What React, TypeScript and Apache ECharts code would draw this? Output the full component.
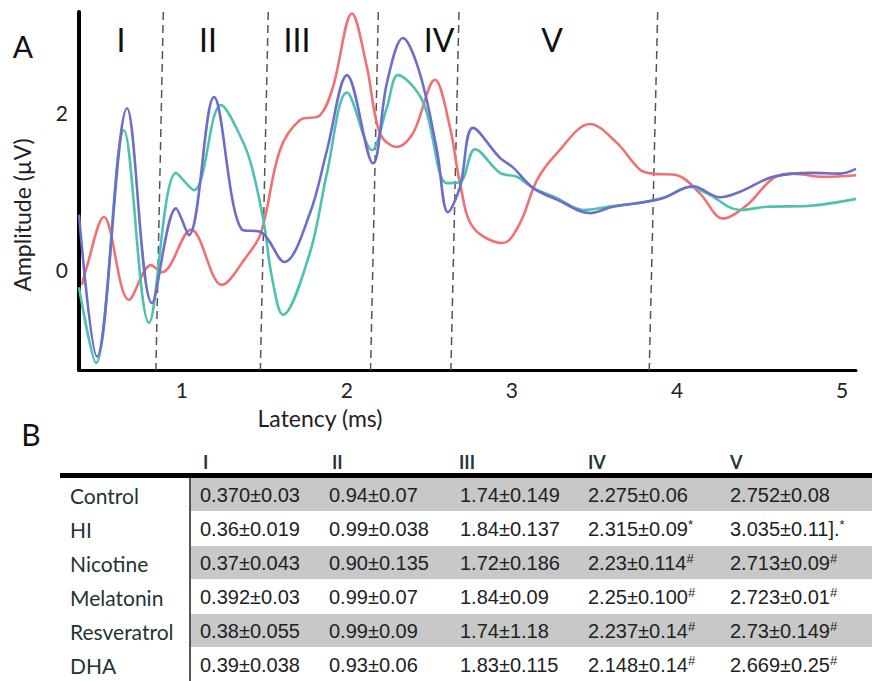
import React, { useEffect, useRef } from "react";
import * as echarts from "echarts";

// ---- Panel A data (latency ms, amplitude µV) ----
const blueLatency = [0.376, 0.485, 0.667, 0.818, 0.964, 1.042, 1.194, 1.364, 1.479, 1.62, 1.776, 1.879, 2.0, 2.158, 2.242, 2.339, 2.442, 2.545, 2.612, 2.685, 2.764, 2.927, 3.006, 3.127, 3.273, 3.473, 3.612, 3.776, 3.915, 4.097, 4.261, 4.382, 4.582, 4.824, 4.988, 5.085];
const blueAmp = [0.7, -1.1, 2.05, -0.42, 0.78, 0.44, 2.19, 0.51, 0.48, 0.1, 0.72, 1.52, 2.47, 1.35, 2.37, 2.94, 2.49, 1.52, 0.73, 1.05, 1.8, 1.42, 1.3, 1.04, 0.89, 0.72, 0.8, 0.85, 0.91, 1.06, 0.92, 0.99, 1.18, 1.23, 1.22, 1.28];

const tealLatency = [0.376, 0.479, 0.648, 0.8, 0.964, 1.073, 1.236, 1.364, 1.424, 1.497, 1.545, 1.612, 1.776, 1.879, 2.0, 2.152, 2.242, 2.309, 2.461, 2.606, 2.685, 2.776, 2.927, 3.03, 3.127, 3.273, 3.43, 3.612, 3.776, 3.915, 4.079, 4.182, 4.382, 4.545, 4.788, 5.085];
const tealAmp = [-0.22, -1.18, 1.77, -0.67, 1.23, 1.01, 2.09, 1.65, 1.3, 0.59, -0.09, -0.57, 0.22, 1.23, 2.25, 1.52, 2.06, 2.47, 2.13, 1.1, 1.11, 1.53, 1.23, 1.18, 1.04, 0.91, 0.76, 0.81, 0.85, 0.91, 1.05, 0.97, 0.76, 0.8, 0.81, 0.9];

const redLatency = [0.394, 0.418, 0.527, 0.679, 0.812, 0.879, 1.055, 1.242, 1.388, 1.479, 1.594, 1.715, 1.836, 1.915, 2.03, 2.121, 2.2, 2.303, 2.4, 2.533, 2.624, 2.685, 2.764, 2.945, 3.048, 3.152, 3.273, 3.473, 3.636, 3.776, 3.855, 4.0, 4.139, 4.279, 4.424, 4.582, 4.703, 4.885, 5.085];
const redAmp = [-0.19, 0.0, 0.67, -0.38, 0.06, -0.03, 0.51, -0.19, 0.16, 0.47, 1.52, 1.9, 1.96, 2.32, 3.25, 2.57, 1.73, 1.56, 1.73, 2.41, 1.81, 1.1, 0.54, 0.34, 0.59, 1.14, 1.48, 1.85, 1.61, 1.27, 1.22, 1.2, 0.97, 0.65, 0.82, 1.16, 1.22, 1.18, 1.2];

const dividerTop = [0.887, 1.523, 2.19, 2.679, 3.883];
const dividerBottom = [0.842, 1.475, 2.143, 2.63, 3.832];
const waveNames = ["I", "II", "III", "IV", "V"];
const waveLabelX = [121, 208, 297, 439, 552];

const xTicks = [1, 2, 3, 4, 5];
const yTicks = [0, 2];
const X_MIN = 0.376;
const X_MAX = 5.085;
const Y_MIN = -1.27;
const Y_MAX = 3.27;

// ---- Panel B table ----
const groups = ["Control", "HI", "Nicotine", "Melatonin", "Resveratrol", "DHA"];
const waveIcol = ["0.370±0.03", "0.36±0.019", "0.37±0.043", "0.392±0.03", "0.38±0.055", "0.39±0.038"];
const waveIIcol = ["0.94±0.07", "0.99±0.038", "0.90±0.135", "0.99±0.07", "0.99±0.09", "0.93±0.06"];
const waveIIIcol = ["1.74±0.149", "1.84±0.137", "1.72±0.186", "1.84±0.09", "1.74±1.18", "1.83±0.115"];
const waveIVcol = ["2.275±0.06", "2.315±0.09*", "2.23±0.114#", "2.25±0.100#", "2.237±0.14#", "2.148±0.14#"];
const waveVcol = ["2.752±0.08", "3.035±0.11].*", "2.713±0.09#", "2.723±0.01#", "2.73±0.149#", "2.669±0.25#"];

const zip = (xs: number[], ys: number[]) => xs.map((x, i) => [x, ys[i]]);

const FONT = "Lato, 'Open Sans', sans-serif";
const NUMFONT = "'Liberation Sans', Arial, sans-serif";

function cellText(v: string) {
  const last = v.charAt(v.length - 1);
  if (last === "#" || last === "*") {
    return `{v|${v.slice(0, -1)}}{s|${last}}`;
  }
  return `{v|${v}}`;
}

export default function App() {
  const ref = useRef<HTMLDivElement>(null);
  useEffect(() => {
    if (!ref.current) return;
    const chart = echarts.init(ref.current, undefined, { renderer: "svg" });

    const dividerSeries = dividerTop.map((t, i) => ({
      type: "line",
      data: [
        [t, Y_MAX],
        [dividerBottom[i], Y_MIN],
      ],
      symbol: "none",
      silent: true,
      lineStyle: { color: "#555", width: 1.5, type: [8, 5] },
      z: 1,
    }));

    const curve = (name: string, xs: number[], ys: number[], color: string) => ({
      name,
      type: "line",
      data: zip(xs, ys),
      smooth: 0.35,
      symbol: "none",
      lineStyle: { color, width: 2.6 },
      z: 3,
    });

    const columns = [waveIcol, waveIIcol, waveIIIcol, waveIVcol, waveVcol];
    const colX = [200, 329, 460, 588, 730];
    const headerX = [203, 332, 459, 588, 730];
    const rowTop = 478;
    const rowH = 34;

    const table: any[] = [];
    groups.forEach((g, i) => {
      if (i % 2 === 0) {
        table.push({
          type: "rect",
          shape: { x: 190, y: rowTop + rowH * i, width: 682, height: rowH - 1 },
          style: { fill: "#c8c8c8" },
          silent: true,
        });
      }
    });
    table.push({
      type: "rect",
      shape: { x: 60, y: 473, width: 812, height: 5 },
      style: { fill: "#000" },
    });
    table.push({
      type: "rect",
      shape: { x: 189, y: 478, width: 2, height: 203 },
      style: { fill: "#555" },
    });
    waveNames.forEach((w, j) => {
      table.push({
        type: "text",
        x: headerX[j],
        y: 462,
        style: {
          text: w,
          fontSize: 18,
          fontWeight: "bold",
          fontFamily: FONT,
          fill: "#1f3a3e",
          verticalAlign: "middle",
          align: "left",
        },
      });
    });
    groups.forEach((g, i) => {
      const cy = rowTop + rowH * i + 17;
      table.push({
        type: "text",
        x: 70,
        y: cy,
        style: {
          text: g,
          fontSize: 21,
          fontFamily: FONT,
          fill: "#1e3434",
          verticalAlign: "middle",
          align: "left",
        },
      });
      columns.forEach((col, j) => {
        table.push({
          type: "text",
          x: colX[j],
          y: cy,
          style: {
            text: cellText(col[i]),
            verticalAlign: "middle",
            align: "left",
            rich: {
              v: { fontSize: 20, fontFamily: NUMFONT, fill: "#222", lineHeight: 22 },
              s: { fontSize: 13, fontFamily: NUMFONT, fill: "#222", lineHeight: 22, verticalAlign: "top" },
            },
          },
        });
      });
    });

    const labels: any[] = [
      {
        type: "text",
        x: 23,
        y: 46,
        style: { text: "A", fontSize: 30, fontFamily: FONT, fill: "#111", align: "center", verticalAlign: "middle" },
      },
      {
        type: "text",
        x: 31,
        y: 434,
        style: { text: "B", fontSize: 30, fontFamily: FONT, fill: "#111", align: "center", verticalAlign: "middle" },
      },
      {
        type: "text",
        x: 320,
        y: 418,
        style: { text: "Latency (ms)", fontSize: 23, fontFamily: FONT, fill: "#222", align: "center", verticalAlign: "middle" },
      },
      {
        type: "text",
        x: 22,
        y: 215,
        rotation: Math.PI / 2,
        style: { text: "Amplitude (µV)", fontSize: 23, fontFamily: FONT, fill: "#222", align: "center", verticalAlign: "middle" },
      },
      ...waveNames.map((w, i) => ({
        type: "text",
        x: waveLabelX[i],
        y: 39,
        style: { text: w, fontSize: 32, fontFamily: FONT, fill: "#111", align: "center", verticalAlign: "middle" },
      })),
    ];

    chart.setOption({
      animation: false,
      backgroundColor: "#fff",
      grid: { left: 79, right: 16, top: 12, bottom: 311, containLabel: false },
      xAxis: {
        type: "value",
        min: X_MIN,
        max: X_MAX,
        axisLine: { show: true, onZero: false, lineStyle: { color: "#000", width: 3 } },
        axisTick: { show: false },
        splitLine: { show: false },
        axisLabel: {
          customValues: xTicks,
          fontSize: 21,
          fontFamily: FONT,
          color: "#222",
          margin: 9,
        },
      },
      yAxis: {
        type: "value",
        min: Y_MIN,
        max: Y_MAX,
        axisLine: { show: true, onZero: false, lineStyle: { color: "#000", width: 4 } },
        axisTick: { show: false },
        splitLine: { show: false },
        axisLabel: {
          customValues: yTicks,
          fontSize: 21,
          fontFamily: FONT,
          color: "#222",
          margin: 11,
        },
      },
      series: [
        ...dividerSeries,
        curve("HI", redLatency, redAmp, "#ef7171"),
        curve("Teal", tealLatency, tealAmp, "#4ec1b0"),
        curve("Blue", blueLatency, blueAmp, "#6c6ec9"),
      ],
      graphic: [...labels, ...table],
    });
    return () => chart.dispose();
  }, []);
  return (
    <div
      ref={ref}
      style={{ position: "absolute", left: 0, top: 0, width: 872, height: 681 }}
    />
  );
}
